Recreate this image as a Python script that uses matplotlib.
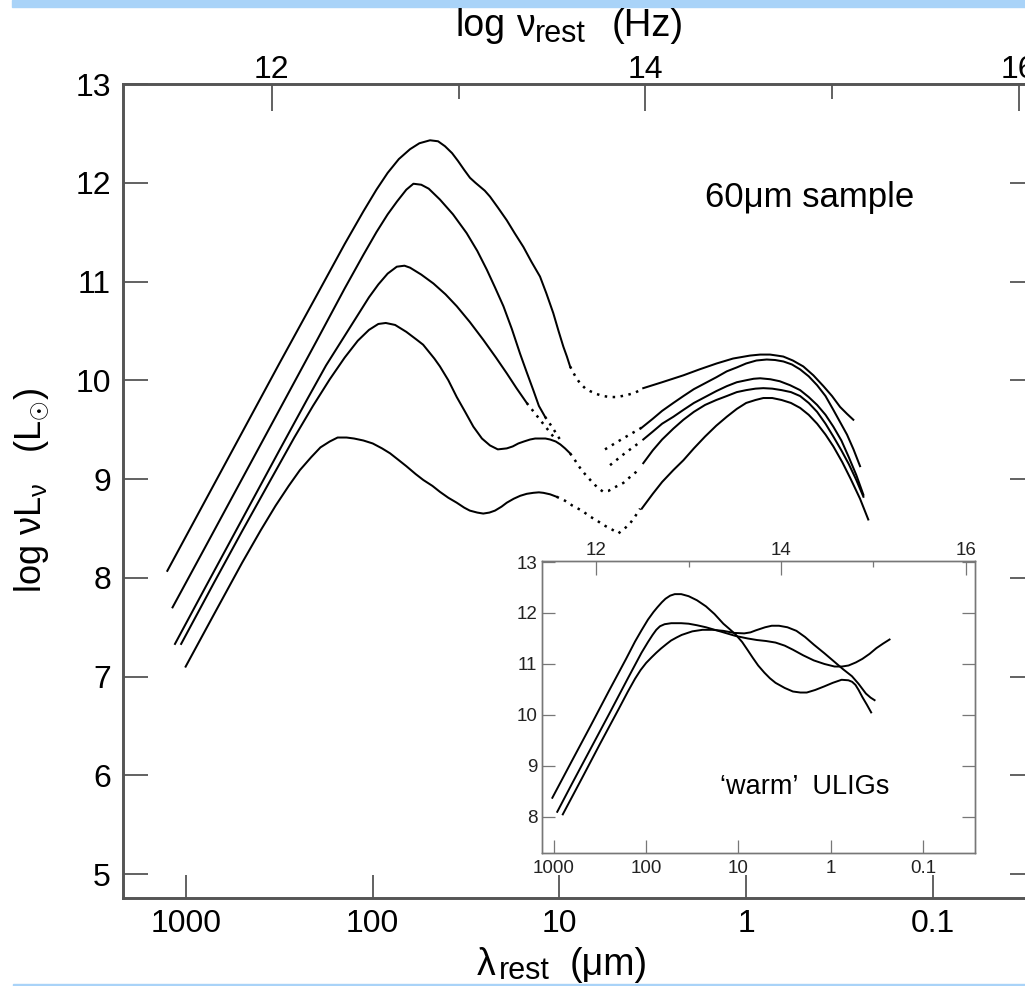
import numpy as np
import matplotlib
matplotlib.use('Agg')
import matplotlib.pyplot as plt
from matplotlib.patches import Rectangle

plt.rcParams['font.family'] = ['Liberation Sans', 'DejaVu Sans']
plt.rcParams['mathtext.fontset'] = 'custom'
plt.rcParams['mathtext.rm'] = 'Liberation Sans'
plt.rcParams['mathtext.it'] = 'Liberation Sans:italic'
plt.rcParams['mathtext.bf'] = 'Liberation Sans:bold'

# log(nu_rest/Hz) = C_NU - log(lambda_rest/um), as drawn on the top axes
C_NU = 14.54

# ---------------- main panel: 60um sample (log10 lambda [um], log nuLnu) -------------
A_solid1_loglam = [3.10, 2.90, 2.70, 2.50, 2.30, 2.15, 2.05, 1.98, 1.92, 1.86, 1.80, 1.75, 1.693,
                   1.650, 1.613, 1.575, 1.543, 1.510, 1.479, 1.450, 1.425, 1.400, 1.372, 1.330,
                   1.282, 1.240, 1.193, 1.150, 1.104, 1.070, 1.033, 1.005, 0.979, 0.960, 0.943]
A_solid1_lum = [8.07, 8.77, 9.47, 10.17, 10.86, 11.38, 11.71, 11.93, 12.10, 12.24, 12.34, 12.40, 12.43,
                12.42, 12.37, 12.30, 12.22, 12.13, 12.05, 12.00, 11.96, 11.92, 11.86, 11.75,
                11.62, 11.49, 11.35, 11.20, 11.05, 10.88, 10.68, 10.50, 10.34, 10.24, 10.14]
A_dot_loglam = [0.943, 0.915, 0.890, 0.863, 0.836, 0.800, 0.765, 0.729, 0.690, 0.640, 0.600, 0.568]
A_dot_lum = [10.14, 10.04, 9.97, 9.92, 9.89, 9.86, 9.84, 9.83, 9.83, 9.85, 9.87, 9.90]
A_solid2_loglam = [0.551, 0.45, 0.336, 0.25, 0.158, 0.07, -0.021, -0.075, -0.128, -0.165, -0.199,
                   -0.25, -0.306, -0.36, -0.414, -0.46, -0.503, -0.54, -0.574]
A_solid2_lum = [9.92, 9.98, 10.05, 10.11, 10.17, 10.22, 10.25, 10.26, 10.26, 10.25, 10.24,
                10.20, 10.14, 10.05, 9.94, 9.84, 9.73, 9.66, 9.60]

B_solid1_loglam = [3.072, 2.90, 2.70, 2.50, 2.30, 2.15, 2.05, 1.98, 1.92, 1.87, 1.82, 1.782, 1.74,
                   1.70, 1.640, 1.57, 1.497, 1.44, 1.389, 1.345, 1.300, 1.255, 1.211, 1.175,
                   1.140, 1.110, 1.077]
B_solid1_lum = [7.70, 8.30, 9.00, 9.70, 10.40, 10.93, 11.27, 11.50, 11.68, 11.81, 11.93, 11.99, 11.98,
                11.94, 11.83, 11.68, 11.49, 11.31, 11.12, 10.94, 10.75, 10.52, 10.27, 10.08,
                9.90, 9.74, 9.63]
B_dot1_loglam = [1.077, 1.037, 0.997]
B_dot1_lum = [9.63, 9.52, 9.40]
B_dot2_loglam = [0.756, 0.660, 0.559]
B_dot2_lum = [9.30, 9.41, 9.52]
B_solid2_loglam = [0.559, 0.50, 0.45, 0.39, 0.336, 0.28, 0.22, 0.16, 0.104, 0.05, 0.0, -0.055,
                   -0.110, -0.155, -0.20, -0.245, -0.289, -0.335, -0.38, -0.425, -0.467, -0.505,
                   -0.54, -0.575, -0.610]
B_solid2_lum = [9.52, 9.61, 9.69, 9.77, 9.84, 9.91, 9.97, 10.03, 10.09, 10.13, 10.17, 10.20,
                10.21, 10.205, 10.19, 10.16, 10.11, 10.04, 9.95, 9.84, 9.70, 9.57,
                9.45, 9.30, 9.13]

C_solid1_loglam = [3.059, 2.90, 2.70, 2.50, 2.35, 2.25, 2.15, 2.08, 2.02, 1.97, 1.92, 1.871, 1.83,
                   1.80, 1.74, 1.675, 1.610, 1.550, 1.480, 1.408, 1.340, 1.282, 1.230, 1.175]
C_solid1_lum = [7.33, 7.89, 8.59, 9.29, 9.81, 10.15, 10.45, 10.66, 10.84, 10.97, 11.08, 11.15, 11.16,
                11.14, 11.07, 10.98, 10.87, 10.75, 10.59, 10.41, 10.23, 10.07, 9.92, 9.77]
C_dot1_loglam = [1.175, 1.104, 1.033]
C_dot1_lum = [9.77, 9.60, 9.43]
C_dot2_loglam = [0.729, 0.650, 0.578]
C_dot2_lum = [9.14, 9.26, 9.36]
C_solid2_loglam = [0.551, 0.50, 0.45, 0.39, 0.336, 0.28, 0.22, 0.16, 0.104, 0.05, 0.0, -0.04,
                   -0.075, -0.13, -0.18, -0.235, -0.289, -0.335, -0.38, -0.425, -0.467, -0.51,
                   -0.55, -0.59, -0.628]
C_solid2_lum = [9.40, 9.48, 9.56, 9.63, 9.70, 9.77, 9.83, 9.89, 9.94, 9.98, 10.00, 10.015,
                10.02, 10.01, 9.99, 9.95, 9.90, 9.83, 9.75, 9.65, 9.53, 9.39,
                9.22, 9.04, 8.84]

D_solid1_loglam = [3.026, 2.85, 2.70, 2.55, 2.42, 2.32, 2.23, 2.15, 2.08, 2.02, 1.97, 1.93, 1.88,
                   1.82, 1.764, 1.73, 1.700, 1.670, 1.640, 1.595, 1.550, 1.505, 1.461, 1.415,
                   1.372, 1.330, 1.282, 1.25, 1.22, 1.19, 1.157, 1.13, 1.10, 1.075, 1.050, 1.02,
                   0.995, 0.97, 0.943]
D_solid1_lum = [7.33, 7.95, 8.47, 8.98, 9.42, 9.74, 10.01, 10.23, 10.40, 10.51, 10.57, 10.58, 10.56,
                10.49, 10.41, 10.36, 10.29, 10.22, 10.14, 10.00, 9.83, 9.68, 9.53, 9.41,
                9.34, 9.30, 9.31, 9.33, 9.36, 9.38, 9.40, 9.41, 9.41, 9.41, 9.40, 9.38,
                9.35, 9.31, 9.26]
D_dot_loglam = [0.943, 0.92, 0.90, 0.877, 0.854, 0.83, 0.81, 0.787, 0.765, 0.737, 0.710, 0.684,
                0.658, 0.634, 0.610, 0.59, 0.568]
D_dot_lum = [9.26, 9.20, 9.14, 9.08, 9.03, 8.98, 8.94, 8.90, 8.87, 8.88, 8.91, 8.935,
             8.96, 9.00, 9.04, 9.07, 9.11]
D_solid2_loglam = [0.551, 0.50, 0.45, 0.39, 0.336, 0.28, 0.22, 0.16, 0.104, 0.05, 0.0, -0.05,
                   -0.092, -0.14, -0.19, -0.24, -0.289, -0.335, -0.38, -0.425, -0.467, -0.51,
                   -0.55, -0.59, -0.628]
D_solid2_lum = [9.16, 9.29, 9.40, 9.51, 9.60, 9.68, 9.75, 9.80, 9.84, 9.88, 9.90, 9.915,
                9.92, 9.915, 9.90, 9.88, 9.84, 9.77, 9.68, 9.56, 9.43, 9.29,
                9.15, 8.99, 8.82]

E_solid1_loglam = [3.002, 2.85, 2.70, 2.60, 2.52, 2.45, 2.39, 2.33, 2.28, 2.23, 2.188, 2.14, 2.10,
                   2.05, 2.0, 1.95, 1.907, 1.86, 1.82, 1.77, 1.729, 1.68, 1.64, 1.595, 1.550,
                   1.51, 1.48, 1.44, 1.408, 1.375, 1.345, 1.31, 1.282, 1.245, 1.21, 1.175,
                   1.140, 1.11, 1.086, 1.05, 1.015]
E_solid1_lum = [7.10, 7.63, 8.15, 8.48, 8.73, 8.93, 9.09, 9.22, 9.32, 9.38, 9.42, 9.42, 9.41,
                9.39, 9.36, 9.31, 9.26, 9.19, 9.13, 9.05, 8.99, 8.93, 8.87, 8.81, 8.76,
                8.71, 8.68, 8.66, 8.65, 8.66, 8.68, 8.72, 8.76, 8.80, 8.83, 8.85,
                8.86, 8.865, 8.86, 8.845, 8.82]
E_dot_loglam = [1.015, 0.97, 0.93, 0.88, 0.836, 0.80, 0.76, 0.72, 0.684, 0.65, 0.622, 0.595, 0.568]
E_dot_lum = [8.82, 8.78, 8.73, 8.68, 8.62, 8.58, 8.53, 8.49, 8.45, 8.50, 8.55, 8.62, 8.70]
E_solid2_loglam = [0.559, 0.50, 0.45, 0.39, 0.336, 0.28, 0.22, 0.16, 0.104, 0.05, 0.0, -0.05,
                   -0.092, -0.14, -0.19, -0.24, -0.289, -0.335, -0.38, -0.425, -0.467, -0.515,
                   -0.56, -0.61, -0.654]
E_solid2_lum = [8.70, 8.85, 8.97, 9.09, 9.19, 9.31, 9.43, 9.54, 9.63, 9.71, 9.77, 9.80,
                9.82, 9.82, 9.80, 9.77, 9.72, 9.65, 9.56, 9.45, 9.33, 9.17,
                9.00, 8.80, 8.59]

main_solid = [(A_solid1_loglam, A_solid1_lum), (A_solid2_loglam, A_solid2_lum),
              (B_solid1_loglam, B_solid1_lum), (B_solid2_loglam, B_solid2_lum),
              (C_solid1_loglam, C_solid1_lum), (C_solid2_loglam, C_solid2_lum),
              (D_solid1_loglam, D_solid1_lum), (D_solid2_loglam, D_solid2_lum),
              (E_solid1_loglam, E_solid1_lum), (E_solid2_loglam, E_solid2_lum)]
main_dotted = [(A_dot_loglam, A_dot_lum), (B_dot1_loglam, B_dot1_lum), (B_dot2_loglam, B_dot2_lum),
               (C_dot1_loglam, C_dot1_lum), (C_dot2_loglam, C_dot2_lum),
               (D_dot_loglam, D_dot_lum), (E_dot_loglam, E_dot_lum)]

# ---------------- inset: 'warm' ULIGs ----------------
W1_loglam = [3.015, 2.8, 2.6, 2.4, 2.217, 2.12, 2.05, 1.98, 1.92, 1.879, 1.83, 1.79, 1.74, 1.690,
             1.62, 1.540, 1.45, 1.352, 1.26, 1.164, 1.10, 1.032, 0.96, 0.90, 0.845, 0.787, 0.72,
             0.66, 0.599, 0.50, 0.411, 0.33, 0.261, 0.17, 0.072, -0.02, -0.116, -0.19, -0.23,
             -0.266, -0.30, -0.341, -0.39, -0.436]
W1_lum = [8.375, 9.11, 9.79, 10.48, 11.10, 11.44, 11.66, 11.87, 12.02, 12.11, 12.21, 12.28, 12.34,
          12.37, 12.37, 12.33, 12.25, 12.13, 11.98, 11.79, 11.69, 11.58, 11.43, 11.27, 11.12,
          10.97, 10.83, 10.72, 10.63, 10.53, 10.46, 10.44, 10.44, 10.49, 10.56, 10.63, 10.69,
          10.68, 10.65, 10.59, 10.49, 10.35, 10.20, 10.05]
W2_loglam = [2.962, 2.8, 2.6, 2.4, 2.2, 2.05, 1.98, 1.93, 1.89, 1.85, 1.80, 1.728, 1.62, 1.540,
             1.45, 1.352, 1.2, 1.032, 0.90, 0.80, 0.70, 0.599, 0.50, 0.411, 0.30, 0.185, 0.07,
             -0.040, -0.12, -0.191, -0.27, -0.341, -0.42, -0.492, -0.565, -0.635]
W2_lum = [8.10, 8.66, 9.34, 10.02, 10.71, 11.22, 11.43, 11.57, 11.67, 11.74, 11.78, 11.80, 11.80,
          11.79, 11.76, 11.72, 11.64, 11.55, 11.50, 11.47, 11.45, 11.42, 11.36, 11.28, 11.17,
          11.07, 11.00, 10.95, 10.95, 10.97, 11.03, 11.10, 11.20, 11.31, 11.40, 11.48]
W3_loglam = [2.902, 2.7, 2.5, 2.293, 2.20, 2.12, 2.06, 2.0, 1.941, 1.89, 1.841, 1.78, 1.730, 1.67,
             1.615, 1.50, 1.390, 1.28, 1.164, 1.05, 0.938, 0.87, 0.812, 0.712, 0.64, 0.562,
             0.47, 0.373, 0.28, 0.185, 0.07, -0.040, -0.13, -0.228, -0.30, -0.379, -0.43, -0.473]
W3_lum = [8.05, 8.74, 9.43, 10.13, 10.45, 10.71, 10.88, 11.02, 11.13, 11.22, 11.30, 11.39, 11.46,
          11.52, 11.57, 11.64, 11.67, 11.67, 11.65, 11.61, 11.60, 11.62, 11.66, 11.72, 11.75,
          11.75, 11.72, 11.65, 11.53, 11.38, 11.21, 11.04, 10.90, 10.76, 10.61, 10.42, 10.34,
          10.29]
inset_curves = [(W1_loglam, W1_lum), (W2_loglam, W2_lum), (W3_loglam, W3_lum)]

lam_ticks = [1000, 100, 10, 1, 0.1]
lam_ticklabels = ['1000', '100', '10', '1', '0.1']
nu_major = [12, 14, 16]
nu_minor = [13, 15]
lum_ticks_main = [5, 6, 7, 8, 9, 10, 11, 12, 13]
lum_ticks_inset = [8, 9, 10, 11, 12, 13]

W, H = 1025, 986
fig = plt.figure(figsize=(W / 100, H / 100), dpi=100)
fig.patches.append(Rectangle((12 / W, 1 - 7 / H), 1, 7 / H, transform=fig.transFigure,
                             color='#a9d3f8', zorder=0))
fig.patches.append(Rectangle((13 / W, 0), 1, 2 / H, transform=fig.transFigure,
                             color='#a9d3f8', zorder=0))


def ftext(x, y, s, size, **kw):
    """text placed by pixel position (x from left, baseline y from top)"""
    return fig.text(x / W, 1 - y / H, s, fontsize=size, ha='left', va='baseline', **kw)


spine_c = '#555555'
DOT = (0, (1, 2.2))

# ---- main axes
L, R, T, B = 122.7, 1035, 84, 898
ax = fig.add_axes([L / W, (H - B) / H, (R - L) / W, (B - T) / H])
ax.set_xscale('log')
lam_lo, lam_hi = 10 ** 3.339, 10 ** -1.547
ax.set_xlim(lam_lo, lam_hi)
ax.set_ylim(4.757, 13.0)
for xs, ys in main_solid:
    ax.plot(10 ** np.array(xs), ys, color='k', lw=1.45, solid_joinstyle='round')
for xs, ys in main_dotted:
    ax.plot(10 ** np.array(xs), ys, color='k', lw=1.8, ls=DOT)
ax.set_xticks(lam_ticks)
ax.set_xticklabels(lam_ticklabels)
ax.xaxis.set_minor_locator(matplotlib.ticker.NullLocator())
ax.set_yticks(lum_ticks_main)
ax.tick_params(axis='y', which='both', direction='in', length=18, width=1.3, color=spine_c,
               labelsize=23, pad=8.5, right=True, left=True)
ax.tick_params(axis='x', which='both', direction='in', length=16.5, width=1.3, color=spine_c,
               labelsize=23, pad=8, top=False)
for s in ax.spines.values():
    s.set_color(spine_c)
    s.set_linewidth(1.9)
ax.set_ylabel(r'log $\mathrm{\nu L_{\nu}}$   (L$_{\odot}$)', fontsize=26)
ax.yaxis.set_label_coords(-(L - 51) / (R - L), (B - 490) / (B - T))

ax2 = ax.twiny()
ax2.set_xlim(C_NU - np.log10(lam_lo), C_NU - np.log10(lam_hi))
ax2.set_xticks(nu_major)
ax2.set_xticks(nu_minor, minor=True)
ax2.set_xticklabels([str(v) for v in nu_major])
ax2.tick_params(axis='x', which='major', direction='in', length=19.5, width=1.3, color=spine_c,
                labelsize=23, pad=-1)
ax2.tick_params(axis='x', which='minor', direction='in', length=11, width=1.3, color=spine_c)
for s in ax2.spines.values():
    s.set_color(spine_c)
    s.set_linewidth(1.9)

# top axis title: log  nu_rest  (Hz)
ftext(456, 36, 'log', 27)
ftext(516, 36, 'ν', 27)
ftext(535, 42, 'rest', 22)
ftext(612, 36, '(Hz)', 27.5)
# bottom axis title: lambda_rest  (um)
ftext(477, 975, 'λ', 27)
ftext(499, 979, 'rest', 22)
ftext(570, 975, '(μm)', 27)

ftext(705, 207, '60μm sample', 25)

# ---- inset axes
iL, iR, iT, iB = 542, 975, 561, 852.6
axi = fig.add_axes([iL / W, (H - iB) / H, (iR - iL) / W, (iB - iT) / H])
axi.set_facecolor('white')
axi.set_xscale('log')
ilam_lo, ilam_hi = 10 ** 3.127, 10 ** -1.56
axi.set_xlim(ilam_lo, ilam_hi)
axi.set_ylim(7.30, 13.02)
for xs, ys in inset_curves:
    axi.plot(10 ** np.array(xs), ys, color='k', lw=1.4, solid_joinstyle='round')
axi.set_xticks(lam_ticks)
axi.set_xticklabels(lam_ticklabels)
axi.xaxis.set_minor_locator(matplotlib.ticker.NullLocator())
axi.set_yticks(lum_ticks_inset)
ic = '#777777'
axi.tick_params(axis='y', direction='in', length=9.4, width=0.9, color=ic, labelsize=13.5,
                pad=3.5, right=True, labelcolor='#222222')
axi.tick_params(axis='x', direction='in', length=9.4, width=0.9, color=ic, labelsize=13.5,
                pad=5, top=False, labelcolor='#222222')
for s in axi.spines.values():
    s.set_color(ic)
    s.set_linewidth(1.0)
axi2 = axi.twiny()
axi2.set_xlim(C_NU - np.log10(ilam_lo), C_NU - np.log10(ilam_hi))
axi2.set_xticks(nu_major)
axi2.set_xticks(nu_minor, minor=True)
axi2.set_xticklabels([str(v) for v in nu_major])
axi2.tick_params(axis='x', which='major', direction='in', length=10, width=0.9, color=ic,
                 labelsize=13.5, pad=1.5, labelcolor='#222222')
axi2.tick_params(axis='x', which='minor', direction='in', length=4.5, width=0.9, color=ic)
for s in axi2.spines.values():
    s.set_color(ic)
    s.set_linewidth(1.0)
ftext(720, 794, '\u2018warm\u2019  ULIGs', 19.5)

fig.savefig('out.png', dpi=100, facecolor='white')
